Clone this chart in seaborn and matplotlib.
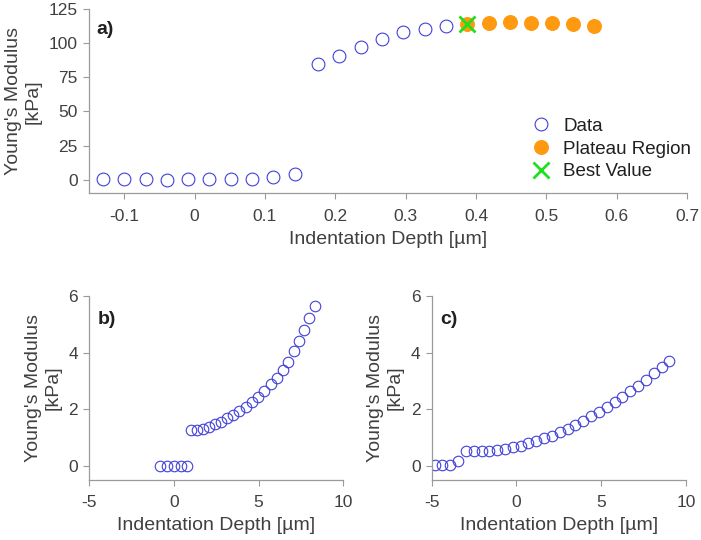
import numpy as np
import pandas as pd
import matplotlib
matplotlib.use("Agg")
import matplotlib.pyplot as plt
import seaborn as sns

# ---- data ----
a_data_x = [-0.130, -0.100, -0.069, -0.039, -0.009, 0.021, 0.052, 0.082, 0.112, 0.143,
            0.175, 0.205, 0.236, 0.266, 0.296, 0.327, 0.357]
a_data_y = [0.3, 0.2, 0.2, 0.1, 0.2, 0.3, 0.2, 0.5, 2.0, 4.2,
            85.0, 91.0, 97.0, 103.0, 108.0, 110.6, 113.0]
a_plateau_x = [0.388, 0.418, 0.448, 0.478, 0.508, 0.538, 0.568]
a_plateau_y = [114.3, 115.2, 115.5, 115.2, 114.7, 113.8, 112.8]
a_best_x = [0.388]
a_best_y = [114.3]

b_x = [-0.83, -0.39, 0.02, 0.41, 0.75,
       1.04, 1.38, 1.73, 2.09, 2.42, 2.78, 3.13, 3.48, 3.86, 4.23, 4.59,
       4.98, 5.33, 5.71, 6.06, 6.42, 6.75, 7.09, 7.40, 7.70, 7.99, 8.35]
b_y = [0.0, 0.0, 0.0, 0.0, 0.0,
       1.27, 1.27, 1.32, 1.39, 1.47, 1.56, 1.68, 1.81, 1.94, 2.09, 2.27,
       2.45, 2.65, 2.88, 3.09, 3.39, 3.68, 4.06, 4.42, 4.80, 5.21, 5.65]

c_x = [-4.83, -4.37, -3.91, -3.44, -2.98, -2.52, -2.06, -1.60, -1.14, -0.67,
       -0.21, 0.25, 0.71, 1.17, 1.64, 2.10, 2.56, 3.02, 3.48, 3.94,
       4.41, 4.87, 5.33, 5.79, 6.25, 6.71, 7.18, 7.64, 8.10, 8.56, 9.02]
c_y = [0.02, 0.02, 0.02, 0.18, 0.52, 0.51, 0.52, 0.54, 0.57, 0.61,
       0.66, 0.72, 0.80, 0.88, 0.98, 1.06, 1.19, 1.31, 1.45, 1.60,
       1.77, 1.92, 2.09, 2.27, 2.45, 2.66, 2.82, 3.04, 3.27, 3.51, 3.71]

a_xticks = [-0.1, 0, 0.1, 0.2, 0.3, 0.4, 0.5, 0.6, 0.7]
a_xticklabels = ["-0.1", "0", "0.1", "0.2", "0.3", "0.4", "0.5", "0.6", "0.7"]
a_yticks = [0, 25, 50, 75, 100, 125]
bc_xticks = [-5, 0, 5, 10]
bc_yticks = [0, 2, 4, 6]

xlabel = "Indentation Depth [µm]"
ylabel = "Young's Modulus\n[kPa]"

# ---- style ----
sns.set_theme(style="ticks")
plt.rcParams['font.family'] = ['Liberation Sans', 'DejaVu Sans']
plt.rcParams['axes.unicode_minus'] = False

BLUE = "#4040d8"
ORANGE = "#ff9a10"
GREEN = "#1ee01e"
SPINE = "#9a9a9a"
TXT = "#404040"

fig = plt.figure(figsize=(7.01, 5.40), dpi=100)
ax_a = fig.add_axes([0.127, 0.642, 0.853, 0.341])
ax_b = fig.add_axes([0.127, 0.111, 0.3628, 0.3407])
ax_c = fig.add_axes([0.6158, 0.111, 0.3628, 0.3407])


def hollow(ax, x, y, ms, label=None):
    df = pd.DataFrame({"x": x, "y": y})
    sns.lineplot(data=df, x="x", y="y", ax=ax, estimator=None, sort=False,
                 linestyle="", marker="o", markersize=ms,
                 markerfacecolor="none", markeredgecolor=BLUE,
                 markeredgewidth=0.8, color=BLUE, label=label, legend=False)


# panel a
hollow(ax_a, a_data_x, a_data_y, 9.2, label="Data")
dfp = pd.DataFrame({"x": a_plateau_x, "y": a_plateau_y})
sns.lineplot(data=dfp, x="x", y="y", ax=ax_a, estimator=None, sort=False,
             linestyle="", marker="o", markersize=10, markerfacecolor=ORANGE,
             markeredgecolor=ORANGE, color=ORANGE, label="Plateau Region", legend=False)
dfb = pd.DataFrame({"x": a_best_x, "y": a_best_y})
sns.lineplot(data=dfb, x="x", y="y", ax=ax_a, estimator=None, sort=False,
             linestyle="", marker="x", markersize=12, markeredgewidth=2,
             markeredgecolor=GREEN, markerfacecolor=GREEN,
             color=GREEN, label="Best Value", legend=False)

ax_a.set_xlim(-0.15, 0.7)
ax_a.set_ylim(-10, 125)
ax_a.set_xticks(a_xticks)
ax_a.set_xticklabels(a_xticklabels)
ax_a.set_yticks(a_yticks)

hollow(ax_b, b_x, b_y, 7.6)
hollow(ax_c, c_x, c_y, 7.6)
for ax in (ax_b, ax_c):
    ax.set_xlim(-5, 10)
    ax.set_ylim(-0.5, 6)
    ax.set_xticks(bc_xticks)
    ax.set_yticks(bc_yticks)

for ax, lab in ((ax_a, "a)"), (ax_b, "b)"), (ax_c, "c)")):
    ax.set_xlabel(xlabel, fontsize=14, color=TXT, labelpad=5)
    ax.set_ylabel(ylabel, fontsize=14, color=TXT, labelpad=5, linespacing=1.2,
                  multialignment="center")
    ax.tick_params(axis="both", direction="out", length=4, width=0.8,
                   color=SPINE, labelcolor=TXT, labelsize=12.5, pad=4)
    ax.tick_params(axis="x", pad=7)
    for s in ("top", "right"):
        ax.spines[s].set_visible(False)
    for s in ("left", "bottom"):
        ax.spines[s].set_color(SPINE)
        ax.spines[s].set_linewidth(0.9)
    ax.grid(False)

ax_a.text(0.013, 0.89, "a)", transform=ax_a.transAxes, fontsize=14,
          fontweight="bold", color="#202020", va="center", ha="left")
ax_b.text(0.035, 0.87, "b)", transform=ax_b.transAxes, fontsize=14,
          fontweight="bold", color="#202020", va="center", ha="left")
ax_c.text(0.035, 0.87, "c)", transform=ax_c.transAxes, fontsize=14,
          fontweight="bold", color="#202020", va="center", ha="left")

leg = ax_a.legend(loc="upper left", bbox_to_anchor=(0.737, 0.41), frameon=False,
                  fontsize=13.5, handletextpad=0.6, labelspacing=0.3,
                  handlelength=1.2, borderaxespad=0, borderpad=0)
for t in leg.get_texts():
    t.set_color("#202020")

fig.savefig("out.png", dpi=100)
